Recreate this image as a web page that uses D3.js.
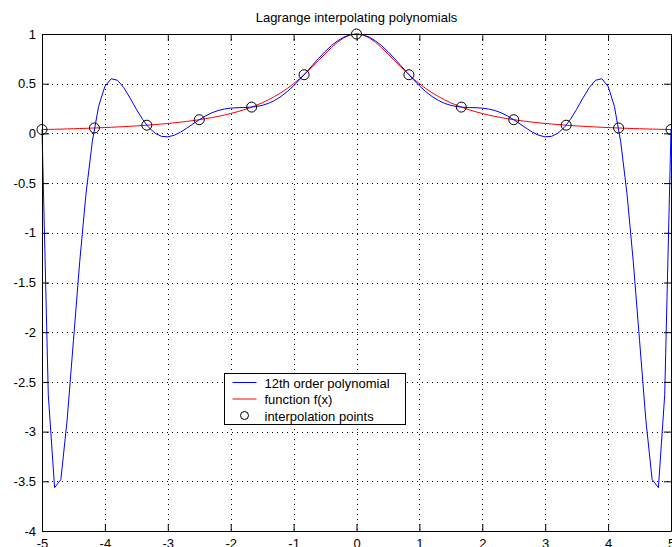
<!DOCTYPE html>
<html>
<head>
<meta charset="utf-8">
<script src="https://cdn.jsdelivr.net/npm/d3@7"></script>
<style>
  body { margin: 0; background: #fff; }
  svg { display: block; font-family: "Liberation Sans", Arial, sans-serif; }
</style>
</head>
<body>
<script>
// sample positions used for both curves
const xSamples = [
  -5.0, -4.9, -4.8, -4.7, -4.6, -4.5, -4.4, -4.3, -4.2, -4.1,
  -4.0, -3.9, -3.8, -3.7, -3.6, -3.5, -3.4, -3.3, -3.2, -3.1,
  -3.0, -2.9, -2.8, -2.7, -2.6, -2.5, -2.4, -2.3, -2.2, -2.1,
  -2.0, -1.9, -1.8, -1.7, -1.6, -1.5, -1.4, -1.3, -1.2, -1.1,
  -1.0, -0.9, -0.8, -0.7, -0.6, -0.5, -0.4, -0.3, -0.2, -0.1,
  0.0, 0.1, 0.2, 0.3, 0.4, 0.5, 0.6, 0.7, 0.8, 0.9,
  1.0, 1.1, 1.2, 1.3, 1.4, 1.5, 1.6, 1.7, 1.8, 1.9,
  2.0, 2.1, 2.2, 2.3, 2.4, 2.5, 2.6, 2.7, 2.8, 2.9,
  3.0, 3.1, 3.2, 3.3, 3.4, 3.5, 3.6, 3.7, 3.8, 3.9,
  4.0, 4.1, 4.2, 4.3, 4.4, 4.5, 4.6, 4.7, 4.8, 4.9,
  5.0
];

// 12th order polynomial (blue)
const polyValues = [
  0.0385, -2.6308, -3.5637, -3.4823, -2.8810, -2.0834, -1.2881, -0.6049, -0.0819, 0.2722,
  0.4733, 0.5498, 0.5347, 0.4604, 0.3557, 0.2434, 0.1405, 0.0577, 0.0006, -0.0295,
  -0.0346, -0.0191, 0.0115, 0.0515, 0.0952, 0.1379, 0.1760, 0.2071, 0.2302, 0.2454,
  0.2541, 0.2582, 0.2602, 0.2631, 0.2695, 0.2819, 0.3023, 0.3320, 0.3716, 0.4209,
  0.4789, 0.5440, 0.6138, 0.6856, 0.7565, 0.8231, 0.8826, 0.9320, 0.9692, 0.9922,
  1.0000, 0.9922, 0.9692, 0.9320, 0.8826, 0.8231, 0.7565, 0.6856, 0.6138, 0.5440,
  0.4789, 0.4209, 0.3716, 0.3320, 0.3023, 0.2819, 0.2695, 0.2631, 0.2602, 0.2582,
  0.2541, 0.2454, 0.2302, 0.2071, 0.1760, 0.1379, 0.0952, 0.0515, 0.0115, -0.0191,
  -0.0346, -0.0295, 0.0006, 0.0577, 0.1405, 0.2434, 0.3557, 0.4604, 0.5347, 0.5498,
  0.4733, 0.2722, -0.0819, -0.6049, -1.2881, -2.0834, -2.8810, -3.4823, -3.5637, -2.6308,
  0.0385
];

// function f(x) (red)
const funcValues = [
  0.0385, 0.0400, 0.0416, 0.0433, 0.0452, 0.0471, 0.0491, 0.0513, 0.0536, 0.0561,
  0.0588, 0.0617, 0.0648, 0.0681, 0.0716, 0.0755, 0.0796, 0.0841, 0.0890, 0.0943,
  0.1000, 0.1063, 0.1131, 0.1206, 0.1289, 0.1379, 0.1479, 0.1590, 0.1712, 0.1848,
  0.2000, 0.2169, 0.2358, 0.2571, 0.2809, 0.3077, 0.3378, 0.3717, 0.4098, 0.4525,
  0.5000, 0.5525, 0.6098, 0.6711, 0.7353, 0.8000, 0.8621, 0.9174, 0.9615, 0.9901,
  1.0000, 0.9901, 0.9615, 0.9174, 0.8621, 0.8000, 0.7353, 0.6711, 0.6098, 0.5525,
  0.5000, 0.4525, 0.4098, 0.3717, 0.3378, 0.3077, 0.2809, 0.2571, 0.2358, 0.2169,
  0.2000, 0.1848, 0.1712, 0.1590, 0.1479, 0.1379, 0.1289, 0.1206, 0.1131, 0.1063,
  0.1000, 0.0943, 0.0890, 0.0841, 0.0796, 0.0755, 0.0716, 0.0681, 0.0648, 0.0617,
  0.0588, 0.0561, 0.0536, 0.0513, 0.0491, 0.0471, 0.0452, 0.0433, 0.0416, 0.0400,
  0.0385
];

// interpolation points
const nodeX = [-5, -4.1667, -3.3333, -2.5, -1.6667, -0.8333, 0, 0.8333, 1.6667, 2.5, 3.3333, 4.1667, 5];
const nodeY = [0.0385, 0.0545, 0.0826, 0.1379, 0.2647, 0.5902, 1, 0.5902, 0.2647, 0.1379, 0.0826, 0.0545, 0.0385];

const xTicks = [-5, -4, -3, -2, -1, 0, 1, 2, 3, 4, 5];
const yTicks = [1, 0.5, 0, -0.5, -1, -1.5, -2, -2.5, -3, -3.5, -4];

const legendLabels = ["12th order polynomial", "function f(x)", "interpolation points"];

const width = 672;
const height = 547;
const plot = { left: 42, right: 671, top: 34, bottom: 531 };

const x = d3.scaleLinear().domain([-5, 5]).range([plot.left, plot.right]);
const y = d3.scaleLinear().domain([-4, 1]).range([plot.bottom, plot.top]);

// plain hyphen for negatives, like the original
const tickText = d => String(d);

const svg = d3.select("body").append("svg")
  .attr("width", width)
  .attr("height", height);

// dotted grid
const grid = svg.append("g")
  .attr("stroke", "#000")
  .attr("stroke-width", 1)
  .attr("stroke-dasharray", "1,4");

grid.selectAll("line.gx")
  .data(xTicks.slice(1, -1))
  .join("line")
  .attr("class", "gx")
  .attr("x1", d => Math.round(x(d)) + 0.5)
  .attr("x2", d => Math.round(x(d)) + 0.5)
  .attr("y1", plot.top)
  .attr("y2", plot.bottom);

grid.selectAll("line.gy")
  .data(yTicks.slice(1, -1))
  .join("line")
  .attr("class", "gy")
  .attr("x1", plot.left)
  .attr("x2", plot.right)
  .attr("y1", d => Math.round(y(d)) + 0.5)
  .attr("y2", d => Math.round(y(d)) + 0.5);

// curves
const pts = (vals) => xSamples.map((xv, i) => [xv, vals[i]]);
const line = d3.line().x(d => x(d[0])).y(d => y(d[1]));

svg.append("path")
  .datum(pts(funcValues))
  .attr("fill", "none")
  .attr("stroke", "#ff0000")
  .attr("stroke-width", 1)
  .attr("d", line);

svg.append("path")
  .datum(pts(polyValues))
  .attr("fill", "none")
  .attr("stroke", "#0000ff")
  .attr("stroke-width", 1)
  .attr("d", line);

svg.append("g")
  .selectAll("circle")
  .data(nodeX)
  .join("circle")
  .attr("cx", d => x(d))
  .attr("cy", (d, i) => y(nodeY[i]))
  .attr("r", 5)
  .attr("fill", "none")
  .attr("stroke", "#000")
  .attr("stroke-width", 1);

// axes: ticks point inward on all four sides
const styleAxis = g => g
  .attr("font-size", 13)
  .attr("font-family", "Liberation Sans, Arial, sans-serif")
  .call(g => g.selectAll("text").attr("fill", "#000"));

svg.append("g")
  .attr("transform", `translate(0,${plot.bottom})`)
  .call(d3.axisBottom(x).tickValues(xTicks).tickSize(-7).tickSizeOuter(0).tickPadding(8).tickFormat(tickText))
  .call(styleAxis);

svg.append("g")
  .attr("transform", `translate(0,${plot.top})`)
  .call(d3.axisTop(x).tickValues(xTicks).tickSize(-7).tickSizeOuter(0).tickFormat(""))
  .call(styleAxis);

svg.append("g")
  .attr("transform", `translate(${plot.left},0)`)
  .call(d3.axisLeft(y).tickValues(yTicks).tickSize(-7).tickSizeOuter(0).tickPadding(6).tickFormat(tickText))
  .call(styleAxis);

svg.append("g")
  .attr("transform", `translate(${plot.right},0)`)
  .call(d3.axisRight(y).tickValues(yTicks).tickSize(-7).tickSizeOuter(0).tickFormat(""))
  .call(styleAxis);

// title
svg.append("text")
  .attr("x", (plot.left + plot.right) / 2)
  .attr("y", 22)
  .attr("text-anchor", "middle")
  .attr("font-size", 13)
  .attr("fill", "#000")
  .text("Lagrange interpolating polynomials");

// legend
const legend = svg.append("g").attr("transform", "translate(224.5,373.5)");

legend.append("rect")
  .attr("width", 181)
  .attr("height", 51)
  .attr("fill", "#fff")
  .attr("stroke", "#000")
  .attr("stroke-width", 1);

const rows = legend.selectAll("g.row")
  .data(legendLabels)
  .join("g")
  .attr("class", "row")
  .attr("transform", (d, i) => `translate(0,${9 + i * 16.5})`);

rows.filter((d, i) => i < 2)
  .append("line")
  .attr("x1", 8)
  .attr("x2", 32)
  .attr("stroke", (d, i) => i === 0 ? "#0000ff" : "#ff0000")
  .attr("stroke-width", 1);

rows.filter((d, i) => i === 2)
  .append("circle")
  .attr("cx", 20)
  .attr("r", 4)
  .attr("fill", "none")
  .attr("stroke", "#000");

rows.append("text")
  .attr("x", 40)
  .attr("y", 5)
  .attr("font-size", 13)
  .attr("fill", "#000")
  .text(d => d);
</script>
</body>
</html>
